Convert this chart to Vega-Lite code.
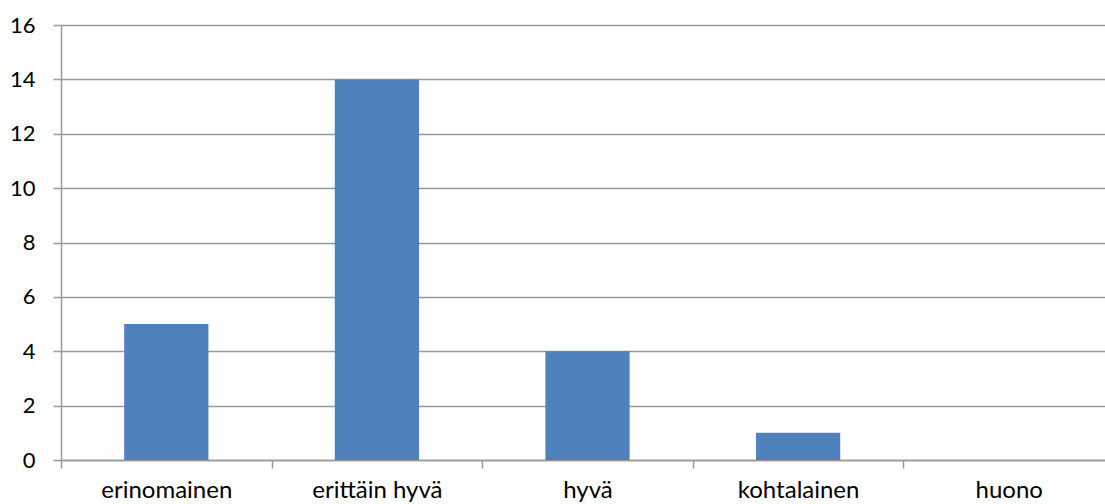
{
  "$schema": "https://vega.github.io/schema/vega-lite/v6.json",
  "width": 1053,
  "height": 435,
  "autosize": {"type": "none"},
  "padding": {"left": 61, "top": 25, "right": 0, "bottom": 44},
  "data": {"values": [
    {"luokka": "erinomainen", "arvo": 5},
    {"luokka": "erittäin hyvä", "arvo": 14},
    {"luokka": "hyvä", "arvo": 4},
    {"luokka": "kohtalainen", "arvo": 1},
    {"luokka": "huono", "arvo": 0}
  ]},
  "mark": {"type": "bar", "color": "#4F81BD", "width": {"band": 0.4}},
  "encoding": {
    "x": {
      "field": "luokka", "type": "nominal", "sort": null,
      "scale": {"paddingInner": 0, "paddingOuter": 0},
      "axis": {"title": null, "labelAngle": 0, "tickBand": "extent", "tickSize": 8, "labelBaseline": "alphabetic", "labelPadding": 29, "labelFontSize": 24, "grid": false}
    },
    "y": {
      "field": "arvo", "type": "quantitative",
      "scale": {"domain": [0, 16], "nice": false},
      "axis": {"title": null, "values": [0, 2, 4, 6, 8, 10, 12, 14, 16], "tickSize": 8, "labelPadding": 18, "labelFontSize": 22, "grid": true}
    }
  },
  "config": {
    "view": {"stroke": null},
    "font": "Lato",
    "axis": {
      "labelFont": "Lato", "labelColor": "#000000",
      "domainColor": "#999999", "tickColor": "#999999", "gridColor": "#999999",
      "domainWidth": 1.5, "tickWidth": 1.5, "gridWidth": 1.5
    }
  }
}
